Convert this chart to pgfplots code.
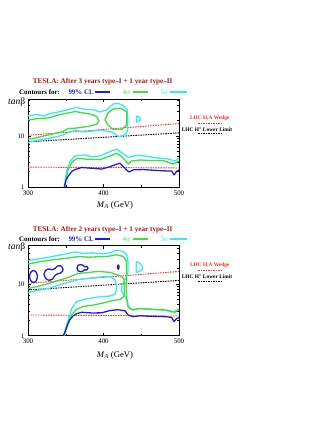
\documentclass[border=0pt]{standalone}
\usepackage{pgfplots}
\pgfplotsset{compat=1.18}
\usepackage{fontspec}
\setmainfont{Liberation Serif}
\definecolor{cBlue}{RGB}{30,30,225}
\definecolor{cGreen}{RGB}{60,225,60}
\definecolor{cCyan}{RGB}{50,235,245}
\definecolor{cRed}{RGB}{255,45,45}
\definecolor{cTitle}{RGB}{180,20,20}
\pgfplotsset{
  myax/.style={
    scale only axis, width=151bp,
    xmin=300, xmax=500, ymin=1,
    xtick={300,400,500}, minor xtick={350,450},
    ytick={1,10}, yticklabels={1,10},
    minor ytick={2,3,4,5,6,7,8,9,20,30,40,50},
    tick align=inside, major tick length=3bp, minor tick length=2bp,
    axis line style={line width=0.8bp},
    every tick/.style={black, line width=0.5bp},
    tick label style={font=\fontsize{7}{8}\selectfont},
    xtick pos=both, ytick pos=both,
  },
  cont/.style={no markers, line width=1.3bp, line join=round},
  refl/.style={no markers, line width=0.9bp, dash pattern=on 1.5bp off 1bp},
}
\newcommand{\tfont}{\bfseries\fontsize{7.2}{8}\selectfont}
\newcommand{\cfont}{\bfseries\fontsize{7}{8}\selectfont}
\newcommand{\lfont}{\bfseries\fontsize{5.4}{6}\selectfont}
\begin{document}
\begin{tikzpicture}
\path[use as bounding box] (0,0) rectangle (309bp,-436bp);

% ================= TOP PANEL =================
\node[font=\tfont, text=cTitle] at (102.7bp,-82bp) {TESLA: After 3 years type--I + 1 year type--II};
\node[anchor=west, font=\cfont, inner sep=0pt] at (19bp,-92bp) {Contours for:};
\node[anchor=west, font=\cfont, text=cBlue, inner sep=0pt] at (68.3bp,-92bp) {99\% CL};
\draw[cBlue, line width=1.3bp] (95bp,-92bp) -- (110bp,-92bp);
\node[anchor=west, font=\fontsize{7}{8}\selectfont, text=cGreen, inner sep=0pt] at (122.5bp,-92bp) {4σ};
\draw[cGreen, line width=1.3bp] (133bp,-92bp) -- (148bp,-92bp);
\node[anchor=west, font=\fontsize{7}{8}\selectfont, text=cCyan, inner sep=0pt] at (160.5bp,-92bp) {5σ};
\draw[cCyan, line width=1.3bp] (170bp,-92bp) -- (187bp,-92bp);
\node[font=\lfont, text=cRed] at (209.7bp,-118.3bp) {LHC H,A Wedge};
\draw[cRed, line width=0.8bp, dash pattern=on 1.5bp off 1bp] (198bp,-123.3bp) -- (221bp,-123.3bp);
\node[font=\lfont] at (207bp,-129bp) {LHC H\textsuperscript{±} Lower Limit};
\draw[black, line width=0.8bp, dash pattern=on 1.5bp off 1bp] (198bp,-133.3bp) -- (221bp,-133.3bp);
\node[font=\itshape\fontsize{9.5}{10}\selectfont] at (16.7bp,-102.3bp) {tan\textup{β}};
\node[font=\fontsize{8.7}{10}\selectfont] at (115bp,-205bp) {\textit{M}\textsubscript{\textit{A}} (GeV)};

\begin{axis}[ymode=log, myax, at={(28bp,-187bp)}, anchor=south west, height=88bp, ymax=53,
  /pgf/number format/assume math mode=true]
% reference lines
\addplot[refl, cRed] coordinates {(300,10.3) (500,17.5)};
\addplot[refl, black] coordinates {(300,7.7) (500,11.5)};
\addplot[refl, cRed] coordinates {(300,2.45) (500,2.36)};
% cyan upper contour
\addplot[cont, cCyan] coordinates {
(300,24.7) (311.5,26.4) (320.3,24.7) (329.1,27.6) (340.1,29.5) (351.3,32.3) (364.5,36.2) (375.5,33.1) (384.4,33.1) (395.4,29.5) (404.2,32.3) (413.0,42.4) (419.6,43.4) (426.2,39.6) (431.5,32.3) (432.0,20.6) (432.0,13.1) (429.8,10.9) (424.1,10.0) (419.6,9.7) (413.0,11.7) (404.2,12.5) (395.4,13.1) (384.4,12.4) (373.2,12.0) (362.3,12.8) (355.6,12.1) (346.8,10.5) (340.1,9.8) (329.1,9.1) (320.3,8.5) (311.5,8.2) (300,7.5)};
% cyan small island
\addplot[cont, cCyan] coordinates {(443.7,24.7) (447.0,23.6) (449.3,21.7) (447.7,19.7) (443.7,18.8) (443.7,24.7)};
% green left lobe
\addplot[cont, cGreen] coordinates {
(300,20.6) (313.6,22.0) (326.9,22.5) (340.1,25.8) (353.4,28.2) (362.3,30.2) (373.2,28.2) (384.4,26.4) (391.0,24.1) (394.0,19.7) (391.0,17.0) (379.9,15.4) (362.3,14.2) (353.4,14.0) (344.6,12.0) (331.4,10.8) (318.1,9.8) (309.3,9.1) (300,8.7)};
% green right lobe
\addplot[cont, cGreen] coordinates {
(402.0,20.6) (406.0,28.2) (412.6,33.8) (422.8,34.9) (430.7,29.5) (430.7,16.4) (424.1,13.4) (412.6,13.6) (406.0,16.4) (402.0,20.6)};
% lower band
\addplot[cont, cCyan] coordinates {
(348.1,1) (349.7,1.5) (351.7,2.15) (355.6,3.16) (362.3,4.05) (373.2,4.24) (384.4,3.96) (395.4,4.05) (404.2,4.64) (413.0,5.24) (417.5,5.49) (424.1,4.70) (428.5,4.24) (432.8,3.79) (439.5,4.05) (448.3,4.18) (457.2,4.0) (470.5,3.7) (483.7,3.59) (490.3,3.38) (494.7,3.23) (500,3.7)};
\addplot[cont, cGreen] coordinates {
(349.0,1) (350.7,1.5) (353.0,2.15) (357.9,3.02) (364.9,3.65) (377.7,3.51) (395.4,3.44) (408.6,4.05) (417.5,4.58) (424.1,3.93) (428.5,3.38) (432.8,2.82) (437.3,3.23) (448.3,3.38) (461.6,3.31) (479.2,3.28) (492.4,2.82) (500,3.23)};
\addplot[cont, cBlue] coordinates {
(348.1,1) (350.3,1.37) (353.4,1.64) (357.9,2.01) (362.3,2.20) (371.1,2.41) (384.4,2.33) (397.6,2.25) (408.6,2.50) (417.5,2.80) (421.9,2.92) (426.2,2.52) (430.7,2.15) (433.8,1.97) (439.5,2.17) (452.8,2.20) (461.6,2.15) (483.7,2.06) (490.3,2.06) (493.4,1.72) (496.9,2.03) (500,2.15)};
\end{axis}

% ================= BOTTOM PANEL =================
\node[font=\tfont, text=cTitle] at (102.7bp,-229.3bp) {TESLA: After 2 years type--I + 1 year type--II};
\node[anchor=west, font=\cfont, inner sep=0pt] at (19bp,-239bp) {Contours for:};
\node[anchor=west, font=\cfont, text=cBlue, inner sep=0pt] at (68.3bp,-239bp) {99\% CL};
\draw[cBlue, line width=1.3bp] (95bp,-239bp) -- (110bp,-239bp);
\node[anchor=west, font=\fontsize{7}{8}\selectfont, text=cGreen, inner sep=0pt] at (122.5bp,-239bp) {4σ};
\draw[cGreen, line width=1.3bp] (133bp,-239bp) -- (148bp,-239bp);
\node[anchor=west, font=\fontsize{7}{8}\selectfont, text=cCyan, inner sep=0pt] at (160.5bp,-239bp) {5σ};
\draw[cCyan, line width=1.3bp] (170bp,-239bp) -- (187bp,-239bp);
\node[font=\lfont, text=cRed] at (209.7bp,-265.7bp) {LHC H,A Wedge};
\draw[cRed, line width=0.8bp, dash pattern=on 1.5bp off 1bp] (198bp,-270bp) -- (221bp,-270bp);
\node[font=\lfont] at (207bp,-276.7bp) {LHC H\textsuperscript{±} Lower Limit};
\draw[black, line width=0.8bp, dash pattern=on 1.5bp off 1bp] (198bp,-281bp) -- (221bp,-281bp);
\node[font=\itshape\fontsize{9.5}{10}\selectfont] at (16.7bp,-247.5bp) {tan\textup{β}};
\node[font=\fontsize{8.7}{10}\selectfont] at (115bp,-355bp) {\textit{M}\textsubscript{\textit{A}} (GeV)};

\begin{axis}[ymode=log, myax, at={(28bp,-335.7bp)}, anchor=south west, height=90bp, ymax=55,
  /pgf/number format/assume math mode=true]
\addplot[refl, cRed] coordinates {(300,10.3) (500,17.5)};
\addplot[refl, black] coordinates {(300,7.7) (500,11.7)};
\addplot[refl, cRed] coordinates {(300,2.52) (500,2.40)};
% cyan outer
\addplot[cont, cCyan] coordinates {
(300.4,28.5) (313.6,30.5) (326.9,32.8) (340.1,35.9) (353.4,38.9) (362.3,41.6) (373.2,38.9) (384.4,40.1) (397.6,38.5) (408.6,40.1) (417.5,45.1) (426.2,42.5) (430.7,37.2) (432.5,26.6) (432.5,17.1) (429.1,12.5) (424.5,9.57) (423.8,7.32) (427.1,6.0) (431.1,5.13) (432.8,3.75) (437.3,3.21) (448.3,3.36) (461.6,3.28) (479.2,3.14) (492.4,2.87) (500,3.28)};
% cyan inner
\addplot[cont, cCyan] coordinates {
(300.4,6.85) (313.6,7.55) (326.9,8.19) (340.1,9.44) (353.4,10.8) (366.6,12.1) (384.4,13.1) (397.6,13.7) (408.6,14.0) (415.2,12.1) (417.5,9.03) (416.6,7.16) (414.6,6.26) (408.6,5.86) (399.7,5.73) (388.7,5.48) (375.5,5.06) (364.5,4.59) (357.9,3.36) (353.4,2.04) (350.3,1.47) (347.4,1)};
% cyan island
\addplot[cont, cCyan] coordinates {(443.4,27.2) (447.7,25.5) (451.0,22.3) (451.9,20.9) (451.0,19.1) (447.7,17.5) (443.4,16.7) (443.4,27.2)};
% green outer
\addplot[cont, cGreen] coordinates {
(300.4,24.4) (313.6,26.6) (326.9,28.7) (340.1,30.1) (353.4,31.8) (366.6,33.9) (379.9,33.0) (393.1,33.6) (404.2,34.0) (417.5,36.7) (426.2,34.0) (430.2,27.9) (430.5,14.3) (430.5,5.36) (432.8,3.51) (439.1,3.14) (448.3,3.36) (465.6,3.21) (483.7,3.14) (494.7,2.84) (500,3.21)};
% green inner
\addplot[cont, cGreen] coordinates {
(300.4,8.19) (313.6,9.03) (326.9,10.2) (340.1,11.7) (353.4,13.4) (366.6,16.0) (379.9,16.7) (393.1,17.5) (408.6,16.8) (417.5,15.1) (424.5,14.0) (427.5,11.9) (427.5,5.86) (421.9,5.01) (413.0,4.80) (399.7,4.29) (386.5,3.92) (373.2,3.67) (364.5,3.28) (357.9,2.55) (353.4,1.84) (351.0,1.41) (348.3,1)};
% blue lower
\addplot[cont, cBlue] coordinates {
(346.8,1) (349.7,1.26) (352.3,1.61) (355.6,2.06) (359.6,2.40) (364.5,2.67) (371.1,2.84) (384.4,2.75) (397.6,2.77) (408.6,3.07) (419.2,3.18) (428.5,3.03) (432.8,2.51) (439.1,2.33) (448.3,2.43) (461.6,2.38) (483.7,2.33) (490.3,2.25) (493.4,1.88) (496.9,2.15) (500,2.23)};
% blue islands
\addplot[cont, cBlue, smooth] coordinates {(312.6,14.0) (311.0,16.8) (307.3,18.2) (303.6,16.8) (302.0,14.0) (303.6,11.6) (307.3,10.7) (311.0,11.6) (312.6,14.0)};
\addplot[cont, cBlue, smooth] coordinates {(321.2,15.3) (323.2,18.2) (327.8,19.5) (332.5,18.8) (335.8,19.9) (339.1,22.3) (343.0,22.5) (346.1,20.4) (345.7,17.5) (342.4,16.1) (338.4,15.6) (335.1,14.3) (332.5,12.4) (328.5,11.8) (323.8,12.6) (321.2,15.3)};
\addplot[cont, cBlue] coordinates {(364.9,20.4) (366.2,23.1) (370.2,23.6) (373.5,22.8) (374.8,21.5) (378.1,21.8) (379.5,20.2) (378.1,18.7) (374.8,18.8) (373.5,17.9) (370.2,17.3) (366.2,17.9) (364.9,20.4)};
\addplot[cont, cBlue] coordinates {(419.6,23.6) (420.5,22.3) (420.5,20.4) (419.6,19.2) (418.7,20.4) (418.7,22.3) (419.6,23.6)};
\end{axis}
\end{tikzpicture}
\end{document}
